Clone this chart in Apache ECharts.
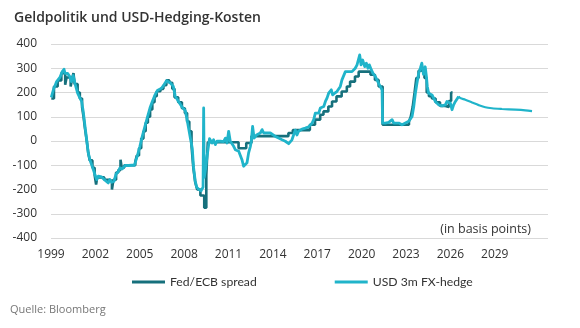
<!DOCTYPE html>
<html>
<head>
<meta charset="utf-8">
<script src="https://cdn.jsdelivr.net/npm/echarts@6/dist/echarts.min.js"></script>
<style>html,body{margin:0;padding:0;background:#fff}#c{width:580px;height:328px}</style>
</head>
<body>
<div id="c"></div>
<script>
const titleText = 'Geldpolitik und USD-Hedging-Kosten';
const sourceText = 'Quelle: Bloomberg';
const unitText = '(in basis points)';
const seriesNames = ['Fed/ECB spread', 'USD 3m FX-hedge'];
const yTicks = [-400, -300, -200, -100, 0, 100, 200, 300, 400];
const xTickYears = [1999, 2002, 2005, 2008, 2011, 2014, 2017, 2020, 2023, 2026, 2029];

// USD 3m FX-hedge (historical)
const hedgeYears = [1999.02,1999.09,1999.18,1999.27,1999.38,1999.49,1999.60,1999.76,1999.88,1999.95,
2000.12,2000.27,2000.38,2000.50,2000.62,2000.80,2000.96,2001.07,2001.18,2001.30,2001.41,2001.52,2001.63,2001.75,2001.86,2001.97,
2002.09,2002.20,2002.31,2002.42,2002.54,2002.65,2002.76,2002.87,2002.98,2003.10,2003.26,2003.39,2003.55,2003.66,2003.82,
2004.00,2004.23,2004.45,2004.63,2004.72,2004.86,2005.01,2005.17,2005.35,2005.53,2005.69,2005.85,2006.03,2006.19,2006.32,2006.48,2006.64,2006.82,2006.93,
2007.09,2007.27,2007.40,2007.63,2007.86,2008.08,2008.20,2008.31,2008.42,2008.55,2008.64,2008.75,2008.85,2009.00,2009.15,2009.28,2009.32,2009.36,2009.48,2009.55,2009.66,2009.72,2009.77,2009.89,2009.99,
2010.11,2010.22,2010.33,2010.45,2010.56,2010.67,2010.79,2010.90,2011.01,2011.12,2011.24,2011.35,2011.46,2011.57,2011.69,2011.80,2011.91,
2012.02,2012.14,2012.25,2012.36,2012.48,2012.54,2012.63,2012.73,2012.81,2012.92,2013.04,2013.15,2013.27,2013.38,2013.49,2013.60,2013.71,2013.83,2013.94,
2014.17,2014.39,2014.62,2014.84,2015.07,2015.18,2015.29,2015.40,2015.52,2015.63,2015.74,2015.97,2016.19,2016.42,2016.53,2016.65,2016.76,2016.87,2016.98,
2017.10,2017.21,2017.32,2017.44,2017.55,2017.66,2017.77,2017.89,2017.95,2018.04,2018.18,2018.33,2018.45,2018.56,2018.67,2018.79,2018.90,
2019.01,2019.12,2019.24,2019.35,2019.46,2019.57,2019.69,2019.80,2019.87,2019.96,2020.07,2020.21,2020.32,2020.43,2020.52,2020.66,2020.77,2020.93,
2021.04,2021.15,2021.27,2021.38,2021.42,2021.60,2021.83,2021.95,2022.06,2022.17,2022.28,2022.51,2022.73,2022.96,2023.18,2023.29,2023.41,2023.52,2023.63,2023.74,2023.86,2023.97,
2024.07,2024.18,2024.30,2024.38,2024.44,2024.53,2024.65,2024.76,2024.87,2024.98,2025.10,2025.21,2025.32,2025.44,2025.55,2025.66,2025.77,2025.89,2026.00,2026.11,2026.22,2026.34,2026.45,2026.56];
const hedgeValues = [180,177,215,228,245,238,262,286,296,279,
279,266,245,270,238,197,177,163,122,60,5,-49,-77,-84,-118,-138,
-159,-145,-152,-148,-156,-162,-166,-173,-159,-170,-166,-138,-125,-111,-115,
-101,-101,-100,-100,-84,-56,-22,19,60,101,136,163,190,208,204,218,232,249,255,
238,225,185,162,140,125,88,50,12,-30,-110,-165,-190,-200,-205,-190,136,-150,-104,-63,-15,10,5,-8,5,
-15,-1,-8,-1,5,-3,12,-8,40,-1,5,-22,-36,-29,-42,-49,-77,
-104,-107,-90,-49,-22,-1,60,12,19,26,19,33,47,33,40,33,35,33,26,
19,12,5,-1,-11,-8,5,25,45,25,40,49,53,58,63,74,88,115,122,
115,136,142,142,163,177,197,204,211,190,197,204,211,225,252,259,286,
293,286,279,286,293,300,314,321,355,314,334,307,321,300,314,293,279,266,
259,238,232,211,74,74,77,81,88,74,71,74,67,74,81,88,101,140,195,238,279,300,
321,275,306,266,225,197,204,190,177,163,156,149,142,145,138,149,163,170,156,129,149,163,170,184];

// USD 3m FX-hedge (forward curve)
const fwdYears = [2026.56,2026.67,2027.01,2027.46,2027.91,2028.36,2028.81,2029.49,2030.39,2031.07,2031.52];
const fwdValues = [184,177,170,159,148,139,135,132,129,126,123];

// Fed/ECB spread (step changes)
const spreadYears = [1999.02,1999.20,1999.45,1999.70,1999.96,2000.05,2000.33,2000.42,2000.52,2000.60,2000.80,2000.95,
2001.10,2001.20,2001.30,2001.42,2001.52,2001.62,2001.80,2001.95,2002.05,2002.12,2002.60,2002.95,2003.12,2003.22,2003.40,2003.55,2003.70,2003.78,2003.95,
2004.70,2004.80,2004.95,2005.10,2005.25,2005.40,2005.55,2005.70,2005.85,2006.00,2006.15,2006.40,2006.60,2006.80,2007.00,2007.20,2007.35,2007.60,2007.85,
2008.05,2008.20,2008.35,2008.50,2008.62,2008.75,2008.88,2009.10,2009.36,2009.50,2009.60,2011.68,2012.20,2012.55,2015.05,2015.35,
2016.50,2016.85,2017.20,2017.42,2017.75,2018.00,2018.30,2018.65,2019.00,2019.22,2019.55,2019.80,2020.60,2020.90,2021.15,2021.42,
2023.20,2023.32,2023.45,2023.58,2023.70,2023.85,2024.05,2024.25,2024.40,2024.55,2024.75,2025.00,2025.30,2025.60,2025.90,2026.05,2026.15];
const spreadValues = [175,225,250,280,232,262,225,255,280,235,200,175,
140,100,50,0,-50,-80,-110,-140,-180,-150,-160,-165,-200,-160,-130,-120,-77,-110,-100,
-85,-60,-30,10,40,75,100,130,160,185,205,215,230,250,240,215,180,160,135,
115,80,40,-20,-110,-170,-200,-225,-275,-140,-5,-30,-8,20,33,45,
67,88,108,122,142,163,184,204,225,245,266,286,273,252,225,67,
80,100,140,200,260,290,300,260,200,185,175,160,145,140,165,200,200];

const zip = (xs, ys) => xs.map((x, i) => [x, ys[i]]);
const DARK = '#16707c';
const LIGHT = '#20b4ca';
const FONT = '"Open Sans", "Noto Sans", sans-serif';

const chart = echarts.init(document.getElementById('c'), null, {renderer: 'canvas'});
chart.setOption({
  animation: false,
  backgroundColor: '#ffffff',
  title: {
    text: titleText, left: 9, top: 6,
    textStyle: {fontFamily: FONT, fontSize: 14, fontWeight: 600, color: '#333333'}
  },
  legend: {
    data: seriesNames,
    left: 127, top: 271,
    icon: 'rect', itemWidth: 33, itemHeight: 3, itemGap: 78,
    textStyle: {fontFamily: 'Lato, "Open Sans", sans-serif', fontSize: 12.2, color: '#333333'}
  },
  grid: {left: 51, right: 32, top: 44, bottom: 90, containLabel: false},
  xAxis: {
    type: 'value', min: 1999, max: 2032.6, interval: 3,
    axisLine: {show: false}, axisTick: {show: false}, splitLine: {show: false},
    axisLabel: {
      margin: 11, fontFamily: FONT, fontSize: 12, color: '#333333',
      showMaxLabel: false,
      formatter: v => (xTickYears.indexOf(Math.round(v)) >= 0 ? String(Math.round(v)) : '')
    }
  },
  yAxis: {
    type: 'value', min: yTicks[0], max: yTicks[yTicks.length - 1], interval: 100,
    axisLine: {show: false}, axisTick: {show: false},
    splitLine: {lineStyle: {color: '#d9d9d9', width: 1}},
    axisLabel: {margin: 14, fontFamily: FONT, fontSize: 12, color: '#333333'}
  },
  graphic: [
    {type: 'text', left: 10, top: 304, style: {text: sourceText, font: '11px ' + FONT, fill: '#777777'}},
    {type: 'text', right: 49, top: 223, style: {text: unitText, font: '12.5px ' + FONT, fill: '#333333'}}
  ],
  series: [
    {
      name: seriesNames[0], type: 'line', step: 'end', showSymbol: false, z: 2,
      data: zip(spreadYears, spreadValues),
      lineStyle: {color: DARK, width: 2.6}, itemStyle: {color: DARK}
    },
    {
      name: seriesNames[1], type: 'line', showSymbol: false, z: 3,
      data: zip(hedgeYears, hedgeValues),
      lineStyle: {color: LIGHT, width: 2.8, join: 'round'}, itemStyle: {color: LIGHT}
    },
    {
      name: 'forward', type: 'line', showSymbol: false, z: 3, smooth: 0.3,
      data: zip(fwdYears, fwdValues),
      lineStyle: {color: LIGHT, width: 2.2}, itemStyle: {color: LIGHT}
    }
  ]
});
</script>
</body>
</html>
